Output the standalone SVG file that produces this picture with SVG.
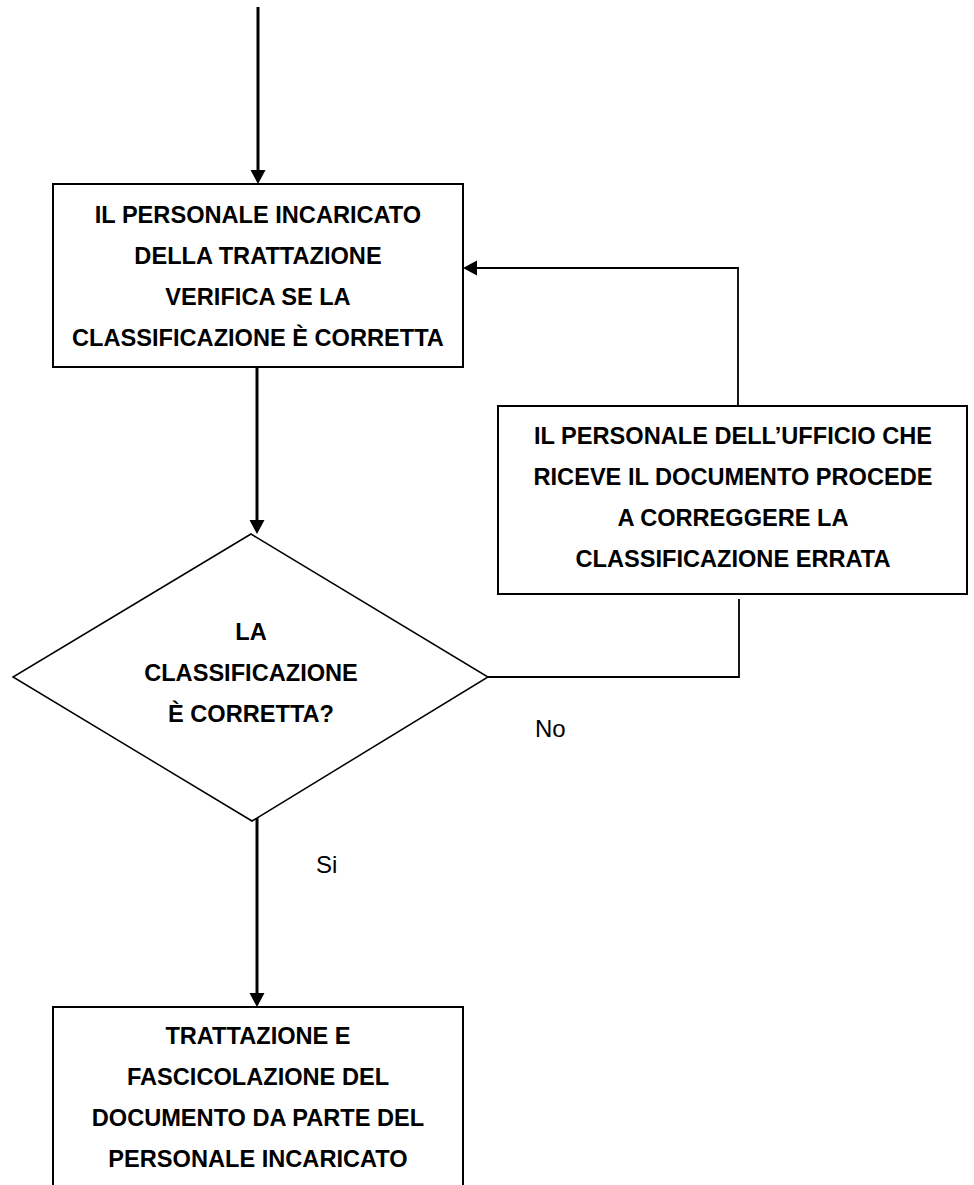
<svg xmlns="http://www.w3.org/2000/svg" width="974" height="1185" viewBox="0 0 974 1185">
  <style>
    .box { fill: #ffffff; stroke: #000000; stroke-width: 2; }
    .dia { fill: #ffffff; stroke: #000000; stroke-width: 1.5; }
    .main { fill: none; stroke: #000000; stroke-width: 3; }
    .thin { fill: none; stroke: #000000; stroke-width: 1.8; }
    .t { font-family: "Liberation Sans", Arial, sans-serif; font-weight: bold; font-size: 23.6px; fill: #000000; text-anchor: middle; }
    .lbl { font-family: "Liberation Sans", Arial, sans-serif; font-size: 24px; fill: #000000; }
  </style>
  <defs>
    <marker id="arr" markerUnits="userSpaceOnUse" markerWidth="16" markerHeight="16" refX="10" refY="7.5" orient="auto" viewBox="0 0 16 16">
      <path d="M0,0 L14,7.5 L0,15 z" fill="#000000"/>
    </marker>
  </defs>
  <rect width="974" height="1185" fill="#ffffff"/>

  <g id="connectors">
    <line class="main" x1="258" y1="7" x2="258" y2="180" marker-end="url(#arr)"/>
    <line class="main" x1="257" y1="367" x2="257" y2="530" marker-end="url(#arr)"/>
    <line class="main" x1="257" y1="807" x2="257" y2="1003" marker-end="url(#arr)"/>
    <polyline class="thin" points="488,677 739,677 739,599"/>
    <polyline class="thin" points="738,406 738,268 467,268" marker-end="url(#arr)"/>
  </g>

  <g id="node-verifica">
    <rect class="box" x="53" y="184" width="410" height="183"/>
    <text class="t" x="258" y="223">IL PERSONALE INCARICATO</text>
    <text class="t" x="258" y="264">DELLA TRATTAZIONE</text>
    <text class="t" x="258" y="305">VERIFICA SE LA</text>
    <text class="t" x="258" y="346">CLASSIFICAZIONE È CORRETTA</text>
  </g>

  <g id="node-correzione">
    <rect class="box" x="498" y="406" width="469" height="188"/>
    <text class="t" x="733" y="444">IL PERSONALE DELL’UFFICIO CHE</text>
    <text class="t" x="733" y="485">RICEVE IL DOCUMENTO PROCEDE</text>
    <text class="t" x="733" y="526">A CORREGGERE LA</text>
    <text class="t" x="733" y="567">CLASSIFICAZIONE ERRATA</text>
  </g>

  <g id="node-decisione">
    <polygon class="dia" points="251,534 488,677 252,821 13,677"/>
    <text class="t" x="251" y="640">LA</text>
    <text class="t" x="251" y="681">CLASSIFICAZIONE</text>
    <text class="t" x="251" y="722">È CORRETTA?</text>
  </g>

  <g id="node-trattazione">
    <rect class="box" x="53" y="1007" width="410" height="200"/>
    <text class="t" x="258" y="1044">TRATTAZIONE E</text>
    <text class="t" x="258" y="1085">FASCICOLAZIONE DEL</text>
    <text class="t" x="258" y="1126">DOCUMENTO DA PARTE DEL</text>
    <text class="t" x="258" y="1167">PERSONALE INCARICATO</text>
  </g>

  <g id="labels">
    <text class="lbl" x="535" y="737">No</text>
    <text class="lbl" x="316" y="873">Si</text>
  </g>
</svg>
